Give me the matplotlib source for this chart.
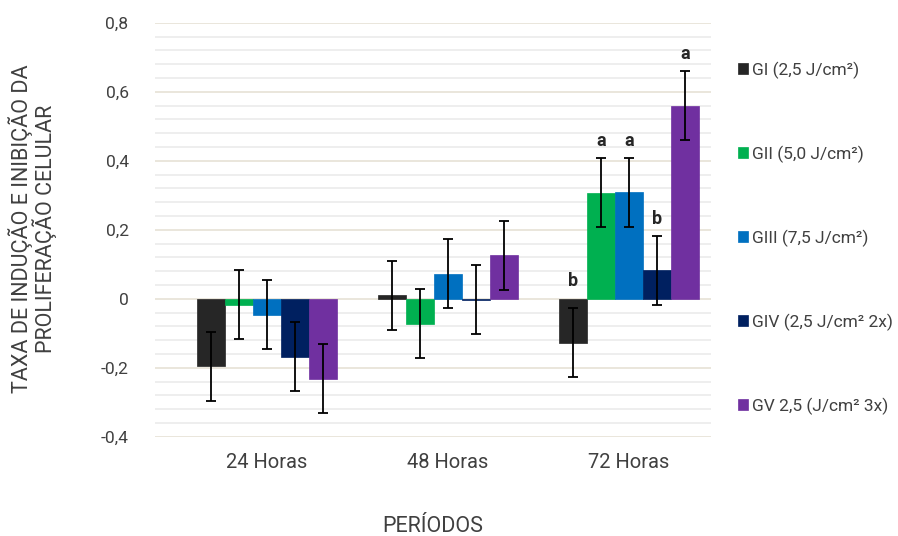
import matplotlib
matplotlib.use("Agg")
import matplotlib.pyplot as plt
import numpy as np
from matplotlib.ticker import MultipleLocator, FixedLocator

categories = ["24 Horas", "48 Horas", "72 Horas"]
groups = ["GI (2,5 J/cm²)", "GII (5,0 J/cm²)", "GIII (7,5 J/cm²)",
          "GIV (2,5 J/cm² 2x)", "GV 2,5 (J/cm² 3x)"]
colors = ["#262626", "#00B050", "#0070C0", "#002060", "#7030A0"]

gI = [-0.196, 0.010, -0.127]
gII = [-0.018, -0.072, 0.307]
gIII = [-0.046, 0.072, 0.308]
gIV = [-0.168, -0.003, 0.082]
gV = [-0.232, 0.126, 0.560]
values = [gI, gII, gIII, gIV, gV]

err = [[0.10, 0.10, 0.10],
       [0.10, 0.10, 0.10],
       [0.10, 0.10, 0.10],
       [0.10, 0.10, 0.10],
       [0.10, 0.10, 0.10]]

# significance letters (only 72 Horas)
letters = [["", "", "b"], ["", "", "a"], ["", "", "a"], ["", "", "b"], ["", "", "a"]]

yticks = [-0.4, -0.2, 0.0, 0.2, 0.4, 0.6, 0.8]
ytick_labels = ["-0,4", "-0,2", "0", "0,2", "0,4", "0,6", "0,8"]

plt.rcParams['font.family'] = ['Roboto', 'DejaVu Sans']
txt = "#404040"

fig = plt.figure(figsize=(8.98, 5.36), dpi=100)
ax = fig.add_axes([155/898, 1-436.7/536, 556/898, 414/536])

x = np.arange(len(categories))
w = 0.155
n = len(groups)
handles = []
for i in range(n):
    pos = x + (i - (n-1)/2) * w
    b = ax.bar(pos, values[i], width=w, color=colors[i], edgecolor=colors[i],
               linewidth=0.5, label=groups[i], zorder=3)
    handles.append(b)
    ax.errorbar(pos, values[i], yerr=err[i], fmt='none', ecolor='black',
                elinewidth=1.3, capsize=3.6, capthick=1.3, zorder=4)
    for j in range(len(categories)):
        if letters[i][j]:
            top = 0 if values[i][j] < 0 else values[i][j] + err[i][j]
            ax.annotate(letters[i][j], (pos[j], top), xytext=(0, 6),
                        textcoords='offset points', ha='center', va='bottom',
                        fontsize=13, fontweight='bold', color='#262626')

ax.set_ylim(-0.4, 0.8)
ax.set_xlim(-112/181, 2 + 82/181)
ax.yaxis.set_major_locator(FixedLocator(yticks))
ax.set_yticklabels(ytick_labels)
ax.yaxis.set_minor_locator(MultipleLocator(0.04))
ax.set_xticks(x)
ax.set_xticklabels(categories)
ax.grid(axis='y', which='major', color='#E6E2D6', linewidth=1.2, zorder=0)
ax.grid(axis='y', which='minor', color='#EBEBEB', linewidth=1.2, zorder=0)
ax.set_axisbelow(True)
for s in ax.spines.values():
    s.set_visible(False)
ax.tick_params(axis='both', which='both', length=0, colors=txt)
ax.tick_params(axis='y', labelsize=12.5, pad=19)
ax.tick_params(axis='x', labelsize=14.5, pad=12)

fig.text(433/898, 1-527/536, "PERÍODOS", ha='center', va='center',
         fontsize=15.5, color=txt)
fig.text(33/898, 1-229/536, "TAXA DE INDUÇÃO E INIBIÇÃO DA\nPROLIFERAÇÃO CELULAR",
         rotation=90, ha='center', va='center', fontsize=15.5, color=txt,
         linespacing=0.95)

leg = fig.legend(handles=handles, labels=groups, loc='upper left',
                 bbox_to_anchor=(722/898, 1-46/536), frameon=False,
                 fontsize=12.5, labelcolor=txt, handlelength=0.6, handleheight=0.6,
                 handletextpad=0.2, labelspacing=3.84)

fig.savefig("out.png", dpi=100)
